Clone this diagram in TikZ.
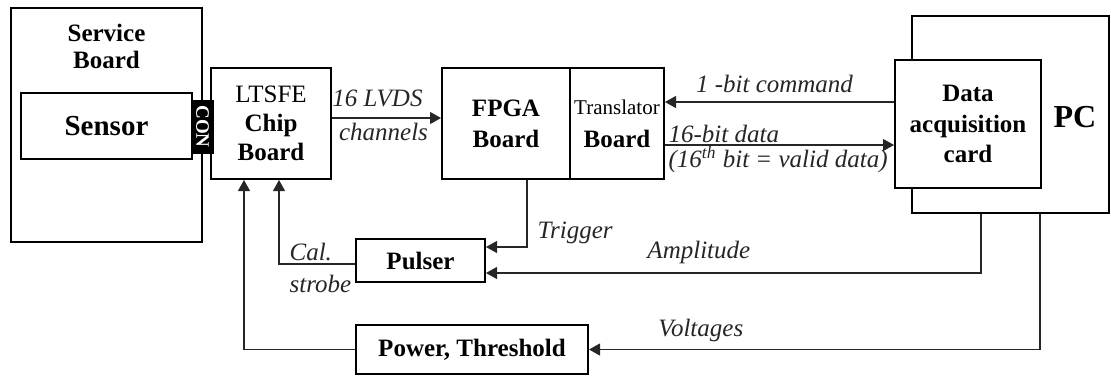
\documentclass[tikz,border=0pt]{standalone}
\usepackage{fontspec}
\setmainfont{Liberation Serif}[ItalicFont={Liberation Serif Italic},
  BoldFont={Liberation Serif Bold}]
\usetikzlibrary{arrows.meta,positioning}
\newcommand{\fs}{\fontsize{12.5}{15}\selectfont}

\begin{document}
\begin{tikzpicture}[x=0.5pt, y=-0.5pt,
  blk/.style={draw, line width=1pt, fill=white, align=center, inner sep=0pt,
    font=\fs\bfseries},
  txt/.style={font=\fs\bfseries, align=center, inner sep=0pt},
  lbl/.style={font=\fs\itshape, inner sep=0pt, align=left},
  arr/.style={-{Triangle[length=5.5pt,width=6pt]}, line width=0.6pt, black!85}]
\useasboundingbox (0,0) rectangle (1111,376);
% boards on the left
\node[blk, minimum width=95.5pt, minimum height=117pt] (service) at (106.5,125) {};
\node[txt, font=\fontsize{12.5}{13.5}\selectfont\bfseries, below=8.5pt of service.north] (servtxt) {Service\\Board};
\node[blk, font=\fontsize{14.5}{17}\selectfont\bfseries, minimum width=85.5pt,
  minimum height=33pt] (sensor) at (106.5,126) {Sensor};
\node[blk, minimum width=60pt, minimum height=55.5pt,
  font=\fontsize{12.5}{14.5}\selectfont\bfseries] (ltsfe) at (271,123.5) {{\mdseries LTSFE}\\Chip\\Board};
\node[blk, fill=black, text=white, line width=0.5pt, rotate=-90, minimum width=26.5pt,
  minimum height=10.5pt, font=\fontsize{9.5}{11}\selectfont\bfseries] (con) at (202.5,126.5) {CON};
% readout chain
\node[blk, minimum width=64pt, minimum height=55.5pt,
  font=\fontsize{12.5}{15.5}\selectfont\bfseries] (fpga) at (506,123.5) {FPGA\\Board};
\node[blk, minimum width=47pt, minimum height=55.5pt, right=-1pt of fpga,
  font=\fontsize{12.5}{16.5}\selectfont\bfseries] (trans) {{\fontsize{10.5}{12}\selectfont\mdseries Translator}\\Board};
\node[blk, minimum width=98.5pt, minimum height=98.5pt] (pc) at (1010.5,114.5) {};
\node[txt, font=\fontsize{16}{19}\selectfont\bfseries] (pctxt) at (1075,117) {PC};
\node[blk, minimum width=73pt, minimum height=64pt,
  font=\fontsize{12.5}{15.25}\selectfont\bfseries] (daq) at (968,124) {Data\\acquisition\\card};
% bottom row
\node[blk, minimum width=64.5pt, minimum height=21.5pt] (pulser) at (420.5,260.5) {Pulser};
\node[blk, minimum width=116pt, minimum height=24.5pt] (power) at (472,349.5) {Power, Threshold};
% connectors
\coordinate (lvds) at ([yshift=2.75pt]ltsfe.east);
\draw[arr] (lvds) -- (lvds -| fpga.west)
  node[lbl, midway, above=5.5pt, xshift=-4.5pt] {16 LVDS}
  node[lbl, midway, below=2.5pt, xshift=-1.5pt] {channels};
\coordinate (cmd) at ([yshift=11pt]daq.west);
\draw[arr] (cmd) -- (cmd -| trans.east)
  node[lbl, midway, above=4.5pt, xshift=-2.5pt] {1 -bit command};
\coordinate (dat) at ([yshift=-10.75pt]trans.east);
\draw[arr] (dat) -- (dat -| daq.west)
  node[lbl, pos=0, anchor=base west, xshift=1.5pt, yshift=1.5pt] {16-bit data}
  node[lbl, pos=0, anchor=base west, xshift=1.5pt, yshift=-11pt] {(16\textsuperscript{th} bit = valid data)};
\draw[arr] ([xshift=10.5pt]fpga.south) |- ([yshift=6.75pt]pulser.east)
  node[lbl, pos=0.5, anchor=base west, xshift=5pt, yshift=4.5pt] {Trigger};
\draw[arr] ([xshift=-14.75pt]pc.south) |- ([yshift=-6.25pt]pulser.east)
  node[lbl, pos=0.785, above=4.5pt] {Amplitude};
\draw[arr] ([xshift=14.75pt]pc.south) |- (power.east)
  node[lbl, pos=0.876, above=3.75pt] {Voltages};
\draw[arr] ([yshift=-1.75pt]pulser.west) -| ([xshift=4pt]ltsfe.south)
  node[lbl, pos=0.5, anchor=base west, xshift=5pt, yshift=2pt] {Cal.}
  node[lbl, pos=0.5, anchor=north west, xshift=5pt, yshift=-5.5pt] {strobe};
\draw[arr] (power.west) -| ([xshift=-13.5pt]ltsfe.south);
\end{tikzpicture}
\end{document}
